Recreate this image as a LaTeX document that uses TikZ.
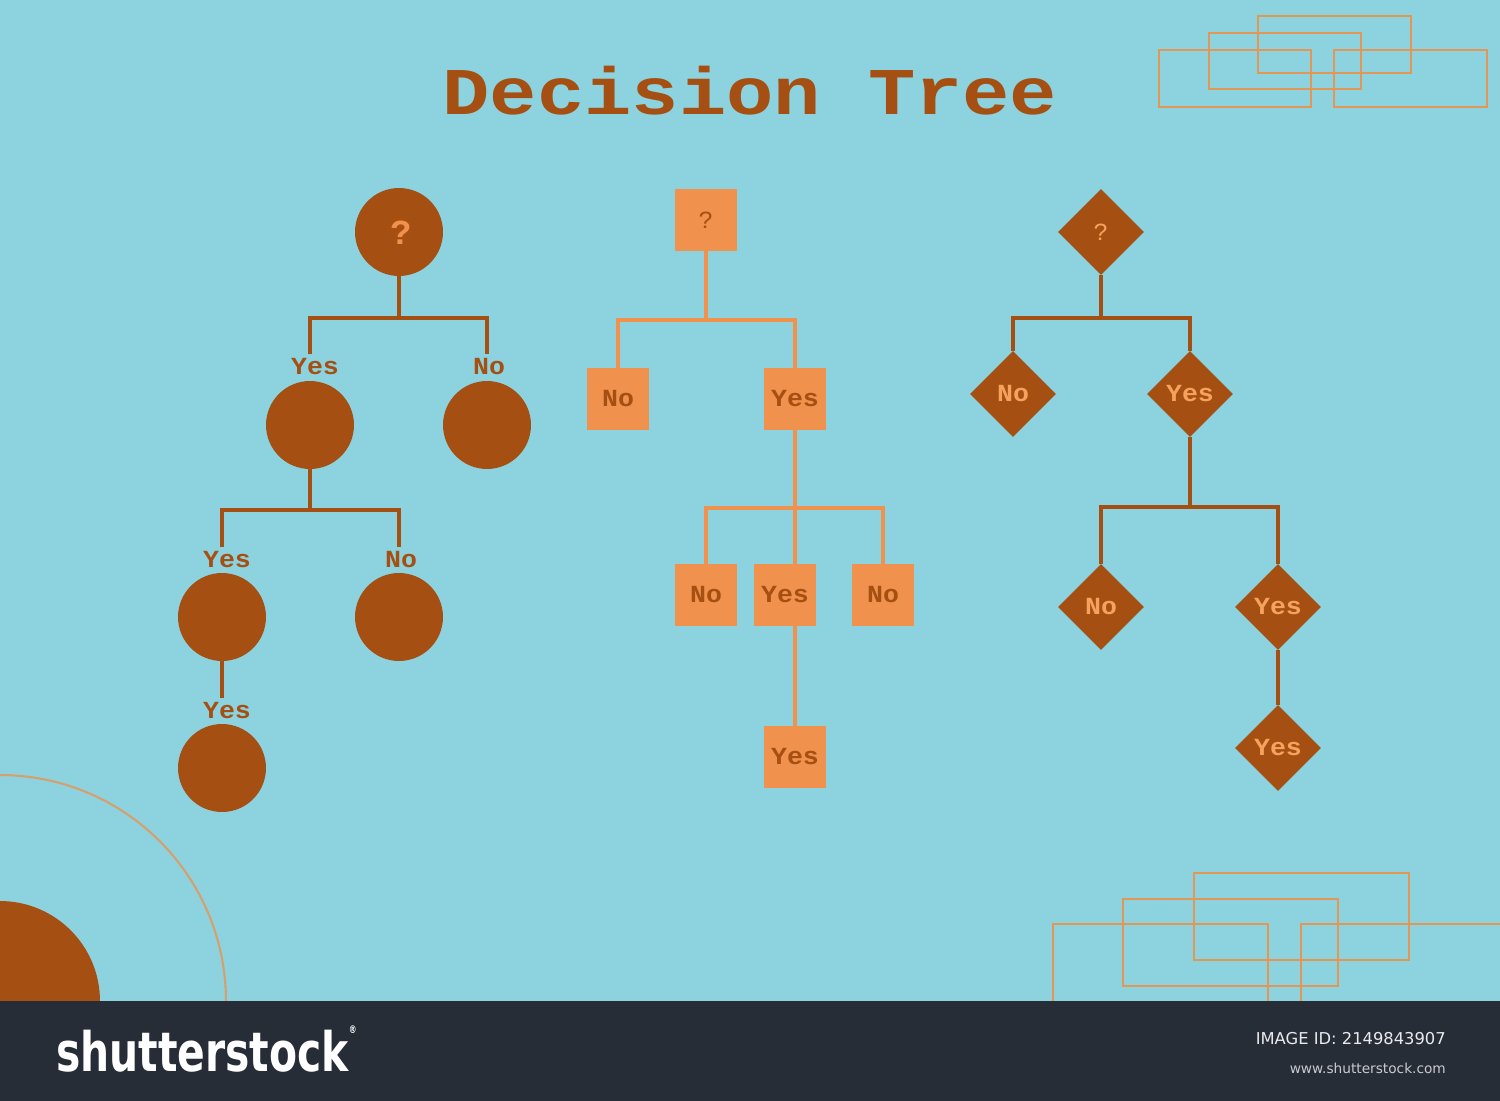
\documentclass[tikz,border=0pt]{standalone}
\usepackage{fontspec}
\setmainfont{Liberation Mono}
\newfontfamily\titrefont[FakeStretch=1.18]{Liberation Mono}
\newfontfamily\etiqfont[FakeStretch=1.08]{Liberation Mono}
\newfontfamily\barfont{DejaVu Sans}
\newfontfamily\logofont[FakeStretch=0.75]{DejaVu Sans}
\usetikzlibrary{shapes.geometric}

\definecolor{fond}{HTML}{8CD3DF}
\definecolor{brun}{HTML}{A55012}
\definecolor{orangec}{HTML}{F0914D}
\definecolor{oranged}{HTML}{F5A25E}
\definecolor{deco}{HTML}{E49655}
\definecolor{arcc}{HTML}{D6A06E}
\definecolor{barre}{HTML}{272D37}

\newcommand{\etiq}{\etiqfont\bfseries\fontsize{14}{16}\selectfont}

\begin{document}
\begin{tikzpicture}[x=0.02cm, y=-0.02cm]
	\tikzset{rond/.style={circle, fill=brun, inner sep=0, minimum size=1.76cm},
		carre/.style={rectangle, fill=orangec, inner sep=0, minimum size=1.24cm, font=\etiq, text=brun},
		losange/.style={diamond, fill=brun, inner sep=0, minimum size=1.72cm, font=\etiq, text=oranged},
		etiquette/.style={font=\etiq, text=brun, inner xsep=0, inner ysep=0.08cm},
		trait/.style={line width=2.8pt, draw=brun},
		traitclair/.style={line width=2.8pt, draw=orangec},
		cadre/.style={line width=1.6pt, draw=deco}};

	\useasboundingbox (0,0) rectangle (1500,1101);
	\clip (0,0) rectangle (1500,1101);
	\fill[fond] (0,0) rectangle (1500,1101);

	% decor
	\fill[brun] (0,1001) circle[radius=2cm];
	\draw[arcc, line width=1.2pt] (0,1001) circle[radius=4.52cm];
	\draw[cadre] (1258, 16) rectangle (1411,  73);
	\draw[cadre] (1209, 33) rectangle (1361,  89);
	\draw[cadre] (1159, 50) rectangle (1311, 107);
	\draw[cadre] (1334, 50) rectangle (1487, 107);
	\draw[cadre] (1194,873) rectangle (1409, 960);
	\draw[cadre] (1123,899) rectangle (1338, 986);
	\draw[cadre] (1053,924) rectangle (1268,1150);
	\draw[cadre] (1301,924) rectangle (1600,1150);

	\node[font=\titrefont\bfseries\fontsize{38}{38}\selectfont, text=brun] (titre) at (750,91) {Decision Tree};

	% arbre 1
	\node[rond] (q1) at ( 399, 232) {};
	\node[font=\bfseries\fontsize{20}{20}\selectfont, text=orangec] at (401,233) {?};
	\node[rond] (c1) at ( 310, 425) {};
	\node[rond] (c2) at ( 487, 425) {};
	\node[rond] (c3) at ( 222, 617) {};
	\node[rond] (c4) at ( 399, 617) {};
	\node[rond] (c5) at ( 222, 768) {};

	\node[etiquette] (e1) at ( 315, 367) {Yes};
	\node[etiquette] (e2) at ( 489, 367) {No};
	\node[etiquette] (e3) at ( 227, 560) {Yes};
	\node[etiquette] (e4) at ( 401, 560) {No};
	\node[etiquette] (e5) at ( 227, 711) {Yes};

	\coordinate (j1) at (399,318);
	\coordinate (j2) at (310,510);

	\draw[trait] (q1) -- (j1);
	\draw[trait] (e1.north -| c1) |- (j1) -| (e2.north -| c2);
	\draw[trait] (c1) -- (j2);
	\draw[trait] (e3.north -| c3) |- (j2) -| (e4.north -| c4);
	\draw[trait] (c3) -- (e5.north -| c3);

	% arbre 2
	\node[carre, font=\fontsize{14}{14}\selectfont] (q2) at ( 706, 220) {?};
	\node[carre] (n2a) at ( 618, 399) {No};
	\node[carre] (y2a) at ( 795, 399) {Yes};
	\node[carre] (n2b) at ( 706, 595) {No};
	\node[carre] (y2b) at ( 785, 595) {Yes};
	\node[carre] (n2c) at ( 883, 595) {No};
	\node[carre] (y2c) at ( 795, 757) {Yes};

	\coordinate (j3) at (706,320);
	\coordinate (j4) at (795,508);

	\draw[traitclair] (q2) -- (j3);
	\draw[traitclair] (n2a) |- (j3) -| (y2a);
	\draw[traitclair] (y2a) -- (j4);
	\draw[traitclair] (n2b) |- (j4) -| (n2c);
	\draw[traitclair] (j4) -- (y2b.north -| j4);
	\draw[traitclair] (y2b.south -| j4) -- (y2c);

	% arbre 3
	\node[losange, font=\fontsize{14}{14}\selectfont] (q3) at (1101, 232) {?};
	\node[losange] (n3a) at (1013, 394) {No};
	\node[losange] (y3a) at (1190, 394) {Yes};
	\node[losange] (n3b) at (1101, 607) {No};
	\node[losange] (y3b) at (1278, 607) {Yes};
	\node[losange] (y3c) at (1278, 748) {Yes};

	\coordinate (j5) at (1101,318);
	\coordinate (j6) at (1190,507);

	\draw[trait] (q3) -- (j5);
	\draw[trait] (n3a) |- (j5) -| (y3a);
	\draw[trait] (y3a) -- (j6);
	\draw[trait] (n3b) |- (j6) -| (y3b);
	\draw[trait] (y3b) -- (y3c);

	% bandeau
	\fill[barre] (0,1001) rectangle (1500,1101);
	\node[anchor=west, text=white, font=\logofont\bfseries\fontsize{31}{31}\selectfont] (logo) at (50,1049) {shutterstock\raisebox{1.3ex}{\fontsize{6}{6}\selectfont ®}};
	\node[anchor=east, text=white!90!barre, font=\barfont\fontsize{9.3}{10}\selectfont] (ident) at (1452,1039) {IMAGE ID: 2149843907};
	\node[anchor=east, text=white!75!barre, font=\barfont\fontsize{7.8}{9}\selectfont] (site) at (1452,1068) {www.shutterstock.com};

\end{tikzpicture}
\end{document}
